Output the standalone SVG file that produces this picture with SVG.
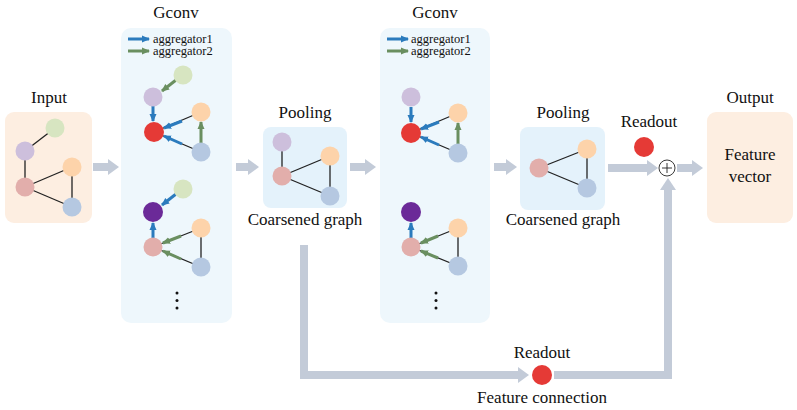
<svg xmlns="http://www.w3.org/2000/svg" width="797" height="410" viewBox="0 0 797 410">
<defs>
<style>
.lbl{font-family:'Liberation Serif','Times New Roman',serif;font-size:17px;fill:#111;text-anchor:middle}
.leg{font-family:'Liberation Serif','Times New Roman',serif;font-size:12.5px;fill:#111}
.edge{stroke:#222;stroke-width:1.3}
.a1{stroke:#2b7bbd;stroke-width:3;fill:none;marker-end:url(#mb)}
.a2{stroke:#6a8f60;stroke-width:3;fill:none;marker-end:url(#mg)}
.flow{stroke:#c3cbd8;stroke-width:8;fill:none}
.head{fill:#c3cbd8}
.g{fill:#d7e5c1}.p{fill:#cdbfdc}.o{fill:#fdd3aa}.k{fill:#e2aeab}.b{fill:#b5c8e1}.r{fill:#e53a36}.d{fill:#6b2a98}
</style>
<marker id="mb" markerUnits="userSpaceOnUse" markerWidth="9" markerHeight="8" refX="7" refY="4" orient="auto"><path d="M0,0.5 L8,4 L0,7.5 z" fill="#2b7bbd"/></marker>
<marker id="mg" markerUnits="userSpaceOnUse" markerWidth="9" markerHeight="8" refX="7" refY="4" orient="auto"><path d="M0,0.5 L8,4 L0,7.5 z" fill="#6a8f60"/></marker>
</defs>
<rect width="797" height="410" fill="#fff"/>

<g id="input">
<text class="lbl" x="49" y="103">Input</text>
<rect x="5" y="112" width="87" height="111" rx="9" fill="#fdeee1"/>
<line class="edge" x1="55" y1="128" x2="25" y2="151"/>
<line class="edge" x1="25" y1="151" x2="25" y2="187"/>
<line class="edge" x1="25" y1="187" x2="72" y2="167"/>
<line class="edge" x1="25" y1="187" x2="72" y2="207"/>
<line class="edge" x1="72" y1="167" x2="72" y2="207"/>
<circle class="g" cx="55" cy="128" r="9.5"/>
<circle class="p" cx="25" cy="151" r="9.5"/>
<circle class="o" cx="72" cy="167" r="9.5"/>
<circle class="k" cx="25" cy="187" r="9.5"/>
<circle class="b" cx="72" cy="207" r="9.5"/>
</g>

<g id="gconv1">
<text class="lbl" x="176" y="18">Gconv</text>
<rect x="121" y="28" width="111" height="295" rx="10" fill="#eef7fc"/>
<line class="a1" x1="128" y1="39" x2="149" y2="39"/>
<line class="a2" x1="128" y1="51" x2="149" y2="51"/>
<text class="leg" x="153" y="43">aggregator1</text>
<text class="leg" x="153" y="55">aggregator2</text>
<line class="edge" x1="201" y1="112" x2="154" y2="132"/>
<line class="edge" x1="201" y1="152" x2="154" y2="132"/>
<line class="a2" x1="176" y1="80" x2="162" y2="91"/>
<line class="a1" x1="153" y1="106" x2="153" y2="121"/>
<line class="a1" x1="182" y1="121" x2="164" y2="128"/>
<line class="a1" x1="182" y1="144" x2="164" y2="136"/>
<line class="a2" x1="201" y1="143" x2="201" y2="122"/>
<circle class="g" cx="183" cy="75" r="9.5"/>
<circle class="p" cx="153" cy="97" r="9.5"/>
<circle class="o" cx="201" cy="112" r="9.5"/>
<circle class="r" cx="154" cy="132" r="10"/>
<circle class="b" cx="201" cy="152" r="9.5"/>

<line class="edge" x1="201" y1="228" x2="153" y2="247"/>
<line class="edge" x1="201" y1="267" x2="153" y2="247"/>
<line class="edge" x1="201" y1="228" x2="201" y2="267"/>
<line class="a1" x1="176" y1="194" x2="162" y2="205"/>
<line class="a1" x1="153" y1="238" x2="153" y2="223"/>
<line class="a2" x1="181" y1="236" x2="163" y2="243"/>
<line class="a2" x1="181" y1="259" x2="163" y2="251"/>
<circle class="g" cx="183" cy="189" r="9.5"/>
<circle class="d" cx="153" cy="212" r="10"/>
<circle class="o" cx="201" cy="228" r="9.5"/>
<circle class="k" cx="153" cy="247" r="9.5"/>
<circle class="b" cx="201" cy="267" r="9.5"/>
<circle cx="177" cy="293" r="1.5" fill="#111"/>
<circle cx="177" cy="300.5" r="1.5" fill="#111"/>
<circle cx="177" cy="308" r="1.5" fill="#111"/>
</g>

<g id="pooling1">
<text class="lbl" x="305" y="118">Pooling</text>
<rect x="263" y="127" width="84" height="81" rx="8" fill="#e4f2fb"/>
<line class="edge" x1="282" y1="142" x2="282" y2="176"/>
<line class="edge" x1="282" y1="176" x2="330" y2="156"/>
<line class="edge" x1="282" y1="176" x2="330" y2="196"/>
<line class="edge" x1="330" y1="156" x2="330" y2="196"/>
<circle class="p" cx="282" cy="142" r="9.5"/>
<circle class="o" cx="330" cy="156" r="9.5"/>
<circle class="k" cx="282" cy="176" r="9.5"/>
<circle class="b" cx="330" cy="196" r="9.5"/>
<text class="lbl" x="305" y="225">Coarsened graph</text>
</g>

<g id="gconv2">
<text class="lbl" x="435" y="18">Gconv</text>
<rect x="380" y="28" width="110" height="295" rx="10" fill="#eef7fc"/>
<line class="a1" x1="387" y1="39" x2="408" y2="39"/>
<line class="a2" x1="387" y1="51" x2="408" y2="51"/>
<text class="leg" x="411" y="43">aggregator1</text>
<text class="leg" x="411" y="55">aggregator2</text>
<line class="edge" x1="458" y1="113" x2="411" y2="133"/>
<line class="edge" x1="458" y1="153" x2="411" y2="133"/>
<line class="a1" x1="411" y1="107" x2="411" y2="122"/>
<line class="a1" x1="439" y1="122" x2="421" y2="129"/>
<line class="a1" x1="439" y1="145" x2="421" y2="137"/>
<line class="a2" x1="458" y1="144" x2="458" y2="123"/>
<circle class="p" cx="411" cy="97" r="9.5"/>
<circle class="o" cx="458" cy="113" r="9.5"/>
<circle class="r" cx="411" cy="133" r="10"/>
<circle class="b" cx="458" cy="153" r="9.5"/>

<line class="edge" x1="458" y1="228" x2="411" y2="247"/>
<line class="edge" x1="458" y1="266" x2="411" y2="247"/>
<line class="edge" x1="458" y1="228" x2="458" y2="266"/>
<line class="a1" x1="411" y1="238" x2="411" y2="223"/>
<line class="a2" x1="438" y1="236" x2="421" y2="243"/>
<line class="a2" x1="438" y1="258" x2="421" y2="251"/>
<circle class="d" cx="411" cy="212" r="10"/>
<circle class="o" cx="458" cy="228" r="9.5"/>
<circle class="k" cx="411" cy="247" r="9.5"/>
<circle class="b" cx="458" cy="266" r="9.5"/>
<circle cx="436" cy="293" r="1.5" fill="#111"/>
<circle cx="436" cy="300.5" r="1.5" fill="#111"/>
<circle cx="436" cy="308" r="1.5" fill="#111"/>
</g>

<g id="pooling2">
<text class="lbl" x="563" y="118">Pooling</text>
<rect x="520" y="127" width="85" height="83" rx="8" fill="#e4f2fb"/>
<line class="edge" x1="539" y1="168" x2="587" y2="149"/>
<line class="edge" x1="539" y1="168" x2="587" y2="188"/>
<line class="edge" x1="587" y1="149" x2="587" y2="188"/>
<circle class="o" cx="587" cy="149" r="9.5"/>
<circle class="k" cx="539" cy="168" r="9.5"/>
<circle class="b" cx="587" cy="188" r="9.5"/>
<text class="lbl" x="563" y="225">Coarsened graph</text>
</g>

<g id="readout1">
<text class="lbl" x="649" y="127">Readout</text>
<circle class="r" cx="644" cy="147" r="10"/>
</g>

<g id="readout2">
<text class="lbl" x="542" y="358">Readout</text>
<circle class="r" cx="542" cy="375" r="10"/>
<text class="lbl" x="542" y="403">Feature connection</text>
</g>

<g id="output">
<text class="lbl" x="750" y="103">Output</text>
<rect x="707" y="112" width="86" height="111" rx="9" fill="#fdeee1"/>
<text class="lbl" x="750" y="160">Feature</text>
<text class="lbl" x="750" y="182">vector</text>
</g>

<g id="connectors">
<line class="flow" x1="93" y1="167" x2="109" y2="167"/><polygon class="head" points="108,159 119,167 108,175"/>
<line class="flow" x1="236" y1="167" x2="249" y2="167"/><polygon class="head" points="248,159 259,167 248,175"/>
<line class="flow" x1="350" y1="167" x2="366" y2="167"/><polygon class="head" points="365,159 376,167 365,175"/>
<line class="flow" x1="494" y1="167" x2="507" y2="167"/><polygon class="head" points="506,159 517,167 506,175"/>
<line class="flow" x1="608" y1="168" x2="648" y2="168"/><polygon class="head" points="647,160 658,168 647,176"/>
<line class="flow" x1="677" y1="168" x2="693" y2="168"/><polygon class="head" points="692,160 703,168 692,176"/>
<polyline class="flow" points="304,245 304,375 519,375"/><polygon class="head" points="518,367 529,375 518,383"/>
<polyline class="flow" points="554,375 668,375 668,189"/><polygon class="head" points="660,190 668,178 676,190"/>
<g id="plus">
<circle cx="667" cy="168" r="8" fill="#fff" stroke="#222" stroke-width="0.9"/>
<line x1="662" y1="168" x2="672" y2="168" stroke="#222" stroke-width="0.9"/>
<line x1="667" y1="163" x2="667" y2="173" stroke="#222" stroke-width="0.9"/>
</g>
</g>
</svg>
